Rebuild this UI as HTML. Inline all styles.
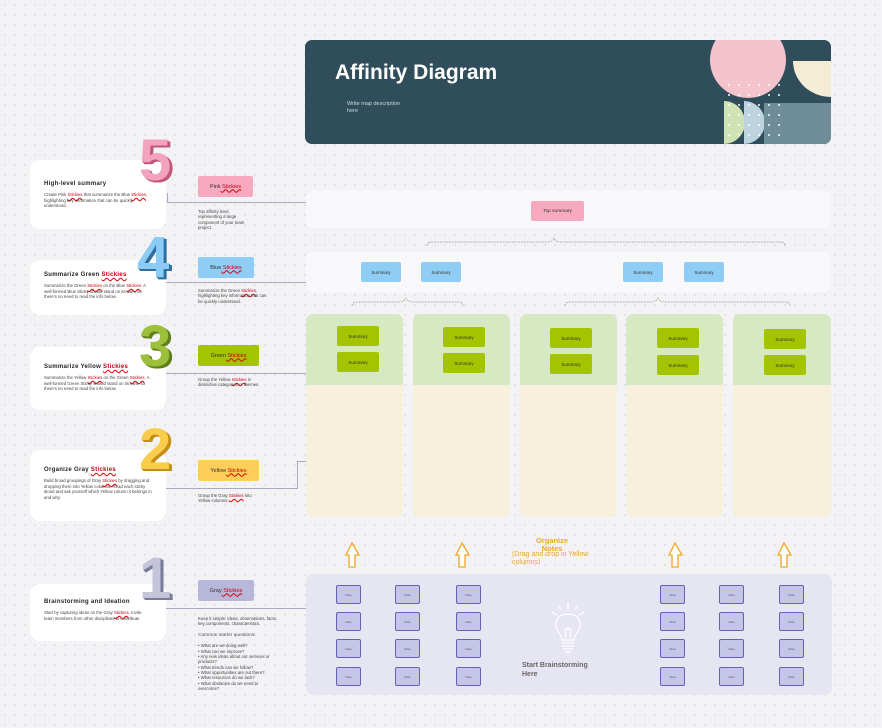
<!DOCTYPE html>
<html><head><meta charset="utf-8"><style>
*{margin:0;padding:0;box-sizing:border-box}
body{width:882px;height:728px;overflow:hidden;background:#f3f3f6;font-family:"Liberation Sans",sans-serif;position:relative;
background-image:radial-gradient(#dcdce2 0.8px,transparent 1px);background-size:10px 10px}
.a{position:absolute}
.card{position:absolute;left:30px;width:136px;background:#fff;border-radius:10px;padding:0 14px}
.card h4{font-size:6px;font-weight:bold;color:#222;letter-spacing:0.3px}
.card p{font-size:4.3px;color:#444;line-height:5.5px;margin-top:5px}
.u{color:#b01;text-decoration:underline wavy #d00}
.num{position:absolute;font-size:58px;font-weight:bold;font-family:"Liberation Sans",sans-serif;line-height:1}
.lab{position:absolute;font-size:5.5px;color:#333;display:flex;align-items:center;justify-content:center;border-radius:2px}
.desc{position:absolute;font-size:4.3px;color:#444;line-height:5.3px}
.hl{position:absolute;height:1px;background:#a9a9c6}
.vl{position:absolute;width:1px;background:#a9a9c6}
.row{position:absolute;left:306px;width:525px;background:#f8f8fa;border-radius:7px}
.sb{position:absolute;width:40px;height:20px;background:#90cdf4;border-radius:2px;font-size:4.5px;color:#333;display:flex;align-items:center;justify-content:center}
.col{position:absolute;top:314px;height:203px;width:97px;border-radius:7px;background:#f7f0dc;overflow:hidden}
.col:before{content:"";position:absolute;left:0;top:0;right:0;height:71px;background:#d6e9c2}
.gs{position:absolute;width:42px;height:20px;background:#a4c400;border-radius:2px;font-size:4.5px;color:#333;display:flex;align-items:center;justify-content:center}
.n{position:absolute;width:25px;height:19px;background:#c5c5e8;border:1.3px solid #6a5fb8;border-radius:2px;font-size:3px;color:#555;display:flex;align-items:center;justify-content:center}
</style></head><body>

<!-- header -->
<div class="a" style="left:305px;top:40px;width:526px;height:104px;background:#2f4d5a;border-radius:7px;overflow:hidden">
 <div class="a" style="left:30px;top:21px;font-size:21px;font-weight:bold;color:#fff">Affinity Diagram</div>
 <div class="a" style="left:42px;top:61px;font-size:5.5px;color:#cfd8dc;line-height:6.5px">Write map description<br>here</div>
 <!-- gray-blue rect -->
 <div class="a" style="left:459px;top:63px;width:67px;height:41px;background:#6f8d99"></div>
 <!-- green half disc -->
 <div class="a" style="left:419px;top:61px;width:20px;height:43px;overflow:hidden"><div style="position:absolute;left:-21px;top:0;width:42px;height:43px;border-radius:50%;background:#cfe3b5"></div></div>
 <!-- blue half disc -->
 <div class="a" style="left:439px;top:61px;width:20px;height:43px;overflow:hidden"><div style="position:absolute;left:-21px;top:0;width:42px;height:43px;border-radius:50%;background:#bdd4de"></div></div>
 <!-- cream -->
 <div class="a" style="left:488px;top:21px;width:38px;height:36px;overflow:hidden"><div style="position:absolute;left:0;top:-36px;width:76px;height:72px;border-radius:50%;background:#f5ecd6"></div></div>
 <!-- pink circle -->
 <div class="a" style="left:405px;top:-18px;width:76px;height:76px;border-radius:50%;background:#f4c3cc"></div>
 <!-- dots -->
 <div class="a" style="left:419px;top:40px;width:62px;height:58px;background-image:radial-gradient(#fff 0.9px,transparent 1.2px);background-size:10px 10px;opacity:.85"></div>
</div>

<!-- left cards -->
<div class="card" style="top:160px;height:69px;padding-top:21px"><h4>High-level summary</h4><p>Create Pink <span class="u">Stickies</span> that summarize the Blue <span class="u">Stickies</span>, highlighting key information that can be quickly understood.</p></div>
<div class="card" style="top:260px;height:55px;padding-top:12px"><h4>Summarize Green <span class="u">Stickies</span></h4><p>Summarize the Green <span class="u">Stickies</span> on the Blue <span class="u">Stickies</span>. A well-formed Blue Sticky should stand on its own, so there's no need to read the info below.</p></div>
<div class="card" style="top:347px;height:63px;padding-top:17px"><h4>Summarize Yellow <span class="u">Stickies</span></h4><p>Summarize the Yellow <span class="u">Stickies</span> on the Green <span class="u">Stickies</span>. A well-formed Green Sticky should stand on its own, so there's no need to read the info below.</p></div>
<div class="card" style="top:450px;height:71px;padding-top:17px"><h4>Organize Gray <span class="u">Stickies</span></h4><p>Build broad groupings of Gray <span class="u">Stickies</span> by dragging and dropping them into Yellow columns. Read each sticky aloud and ask yourself which Yellow column it belongs in and why.</p></div>
<div class="card" style="top:584px;height:57px;padding-top:15px"><h4>Brainstorming and Ideation</h4><p>Start by capturing ideas on the Gray <span class="u">Stickies</span>. Invite team members from other disciplines to contribute.</p></div>

<div class="num" style="left:139px;top:132px;color:#f4a3be;text-shadow:1px 1px 0 #c2577a,2px 2px 0 #c2577a,3px 2px 0 #c2577a">5</div>
<div class="num" style="left:137px;top:229px;color:#8ccbf3;text-shadow:1px 1px 0 #2f6fa0,2px 2px 0 #2f6fa0,3px 2px 0 #2f6fa0">4</div>
<div class="num" style="left:139px;top:318px;color:#9cc03a;text-shadow:1px 1px 0 #5f7f1a,2px 2px 0 #5f7f1a,3px 2px 0 #5f7f1a">3</div>
<div class="num" style="left:139px;top:421px;color:#f9cc4b;text-shadow:1px 1px 0 #c48f16,2px 2px 0 #c48f16,3px 2px 0 #c48f16">2</div>
<div class="num" style="left:139px;top:550px;color:#c4c4da;text-shadow:1px 1px 0 #7a7a99,2px 2px 0 #7a7a99,3px 2px 0 #7a7a99">1</div>

<!-- middle labels -->
<div class="lab" style="left:198px;top:176px;width:55px;height:21px;background:#f6a9bf">Pink <span class="u">&nbsp;Stickies</span></div>
<div class="lab" style="left:198px;top:257px;width:56px;height:21px;background:#90cdf4">Blue <span class="u">&nbsp;Stickies</span></div>
<div class="lab" style="left:198px;top:345px;width:61px;height:21px;background:#a3c400">Green <span class="u">&nbsp;Stickies</span></div>
<div class="lab" style="left:198px;top:460px;width:61px;height:21px;background:#fdcf5a">Yellow <span class="u">&nbsp;Stickies</span></div>
<div class="lab" style="left:198px;top:580px;width:56px;height:21px;background:#b7b7d9">Gray <span class="u">&nbsp;Stickies</span></div>

<div class="desc" style="left:198px;top:209px;width:50px">Top affinity level, representing a large component of your team project.</div>
<div class="desc" style="left:198px;top:288px;width:70px">Summarize the Green <span class="u">Stickies</span>, highlighting key information that can be quickly understood.</div>
<div class="desc" style="left:198px;top:377px;width:62px">Group the Yellow <span class="u">Stickies</span> in distinctive categories or themes.</div>
<div class="desc" style="left:198px;top:493px;width:55px">Group the Gray <span class="u">Stickies</span> into Yellow columns.</div>
<div class="desc" style="left:198px;top:616px;width:82px">Keep it simple: ideas, observations, facts, key components, characteristics.<br><br><span style="font-size:4.8px;color:#555">Common starter questions:</span><br><br>• What are we doing well?<br>• What can we improve?<br>• Any new ideas about our services or products?<br>• What trends can we follow?<br>• What opportunities are out there?<br>• What resources do we lack?<br>• What obstacles do we need to overcome?</div>

<div class="vl" style="left:167px;top:193px;height:10px"></div><div class="hl" style="left:167px;top:202px;width:139px"></div>
<div class="hl" style="left:166px;top:282px;width:140px"></div>
<div class="hl" style="left:166px;top:373px;width:140px"></div>
<div class="hl" style="left:166px;top:488px;width:132px"></div><div class="vl" style="left:297px;top:461px;height:28px"></div><div class="hl" style="left:297px;top:461px;width:9px"></div>
<div class="hl" style="left:166px;top:608px;width:140px"></div>

<!-- rows -->
<div class="row" style="top:191px;height:37px"></div>
<div class="a" style="left:531px;top:201px;width:53px;height:20px;background:#f6a9bf;border-radius:2px;font-size:4.8px;color:#333;display:flex;align-items:center;justify-content:center">Top summary</div>
<div class="row" style="top:252px;height:40px"></div>
<div class="sb" style="left:361px;top:262px">Summary</div>
<div class="sb" style="left:421px;top:262px">Summary</div>
<div class="sb" style="left:623px;top:262px">Summary</div>
<div class="sb" style="left:684px;top:262px">Summary</div>

<svg class="a" style="left:0;top:0" width="882" height="728">
 <g fill="none" stroke="#999" stroke-width="0.7" stroke-dasharray="2 1">
  <path d="M427 246 Q427 242 432 242 L548 242 Q552 242 554 238 Q556 242 560 242 L780 242 Q785 242 785 246"/>
  <path d="M352 306 Q352 302 357 302 L400 302 Q404 302 406 298 Q408 302 412 302 L458 302 Q463 302 463 306"/>
  <path d="M565 306 Q565 302 570 302 L652 302 Q656 302 658 298 Q660 302 664 302 L785 302 Q790 302 790 306"/>
 </g>
 <g fill="#fff" stroke="#f2a623" stroke-width="1.3">
  <path d="M346 555 L352 543 L359 555 L355 555 L355 567 L349 567 L349 555 Z"/>
  <path d="M456 555 L462 543 L469 555 L465 555 L465 567 L459 567 L459 555 Z"/>
  <path d="M669 555 L675 543 L682 555 L678 555 L678 567 L672 567 L672 555 Z"/>
  <path d="M778 555 L784 543 L791 555 L787 555 L787 567 L781 567 L781 555 Z"/>
 </g>
</svg>

<div class="col" style="left:306px"></div>
<div class="col" style="left:413px"></div>
<div class="col" style="left:520px"></div>
<div class="col" style="left:626px"></div>
<div class="col" style="left:733px;width:98px"></div>
<div class="gs" style="left:337px;top:326px">Summary</div><div class="gs" style="left:337px;top:352px">Summary</div>
<div class="gs" style="left:443px;top:327px">Summary</div><div class="gs" style="left:443px;top:353px">Summary</div>
<div class="gs" style="left:550px;top:328px">Summary</div><div class="gs" style="left:550px;top:354px">Summary</div>
<div class="gs" style="left:657px;top:328px">Summary</div><div class="gs" style="left:657px;top:355px">Summary</div>
<div class="gs" style="left:764px;top:329px">Summary</div><div class="gs" style="left:764px;top:355px">Summary</div>

<div class="a" style="left:512px;top:537px;width:80px;font-size:7.5px;color:#f2a623;line-height:7.5px;text-align:center"><b>Organize<br>Notes</b></div>
<div class="a" style="left:512px;top:551px;font-size:7px;color:#f2a623;line-height:7.5px">(Drag and drop in Yellow<br>columns)</div>

<!-- gray area -->
<div class="a" style="left:306px;top:574px;width:526px;height:121px;background:#e6e6f2;border-radius:7px"></div>
<div class="n" style="left:336px;top:585px">Note</div><div class="n" style="left:336px;top:612px">Note</div><div class="n" style="left:336px;top:639px">Note</div><div class="n" style="left:336px;top:667px">Note</div>
<div class="n" style="left:395px;top:585px">Note</div><div class="n" style="left:395px;top:612px">Note</div><div class="n" style="left:395px;top:639px">Note</div><div class="n" style="left:395px;top:667px">Note</div>
<div class="n" style="left:456px;top:585px">Note</div><div class="n" style="left:456px;top:612px">Note</div><div class="n" style="left:456px;top:639px">Note</div><div class="n" style="left:456px;top:667px">Note</div>
<div class="n" style="left:660px;top:585px">Note</div><div class="n" style="left:660px;top:612px">Note</div><div class="n" style="left:660px;top:639px">Note</div><div class="n" style="left:660px;top:667px">Note</div>
<div class="n" style="left:719px;top:585px">Note</div><div class="n" style="left:719px;top:612px">Note</div><div class="n" style="left:719px;top:639px">Note</div><div class="n" style="left:719px;top:667px">Note</div>
<div class="n" style="left:779px;top:585px">Note</div><div class="n" style="left:779px;top:612px">Note</div><div class="n" style="left:779px;top:639px">Note</div><div class="n" style="left:779px;top:667px">Note</div>

<svg class="a" style="left:550px;top:600px" width="36" height="56">
 <g fill="none" stroke="#fff" stroke-width="1.2">
  <path d="M18 14 C8 14 4 22 7 29 C9 33 12 36 12 40 L24 40 C24 36 27 33 29 29 C32 22 28 14 18 14 Z"/>
  <path d="M12 43 L24 43 M12 46 L24 46 M13 49 L23 49 M15 52 L21 52"/>
  <path d="M15 30 L16 38 M21 30 L20 38 M15 30 L17 28 L18 30 L19 28 L21 30"/>
  <path d="M18 2 L18 9 M8 5 L11 10 M28 5 L25 10 M2 12 L7 15 M34 12 L29 15"/>
 </g>
</svg>
<div class="a" style="left:522px;top:662px;font-size:7px;font-weight:bold;color:#666;line-height:8.5px">Start Brainstorming<br>Here</div>

</body></html>
